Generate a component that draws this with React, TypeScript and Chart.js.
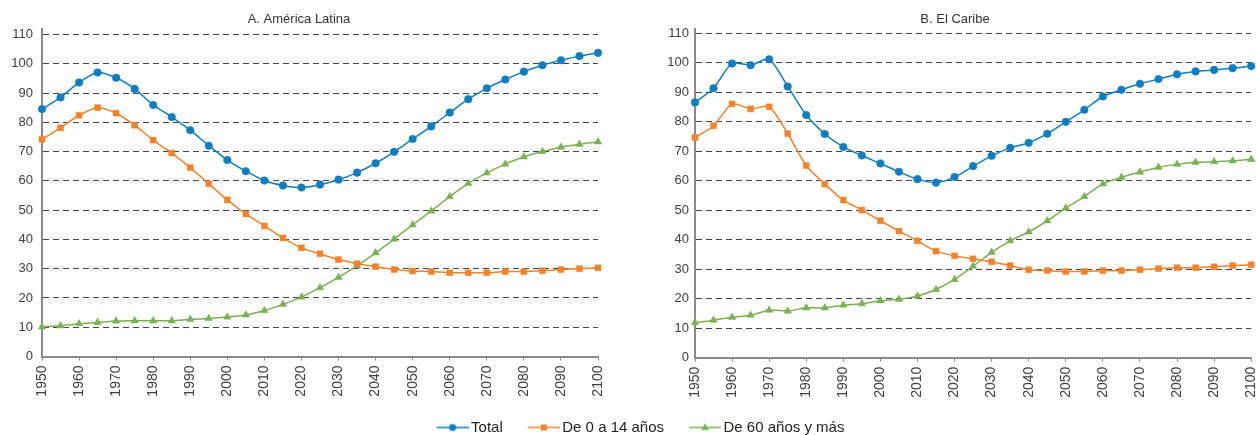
import React, { useEffect, useRef } from 'react';
import { Chart, registerables } from 'chart.js';

Chart.register(...registerables);

const YEARS = [1950, 1955, 1960, 1965, 1970, 1975, 1980, 1985, 1990, 1995, 2000, 2005, 2010, 2015, 2020, 2025, 2030, 2035, 2040, 2045, 2050, 2055, 2060, 2065, 2070, 2075, 2080, 2085, 2090, 2095, 2100];

const SERIES_LABELS = ['Total', 'De 0 a 14 años', 'De 60 años y más'];

const TITLE_A = 'A. América Latina';
const TITLE_B = 'B. El Caribe';

const LA_TOTAL = [84.5, 88.5, 93.6, 97.0, 95.2, 91.4, 85.9, 81.8, 77.3, 72.0, 67.1, 63.3, 60.1, 58.4, 57.7, 58.7, 60.4, 62.8, 66.0, 69.9, 74.3, 78.6, 83.3, 87.9, 91.6, 94.6, 97.3, 99.5, 101.2, 102.6, 103.7];
const LA_0_14 = [74.2, 78.1, 82.4, 85.0, 83.1, 79.0, 73.9, 69.5, 64.5, 59.0, 53.5, 48.7, 44.6, 40.5, 37.1, 35.1, 33.1, 31.7, 30.7, 29.7, 29.2, 29.0, 28.6, 28.6, 28.6, 29.0, 29.0, 29.3, 29.7, 30.0, 30.3];
const LA_60 = [10.1, 10.5, 11.2, 11.6, 12.1, 12.2, 12.2, 12.2, 12.7, 13.0, 13.5, 14.2, 15.7, 17.8, 20.3, 23.5, 27.0, 31.0, 35.4, 40.1, 45.0, 49.7, 54.6, 59.1, 62.7, 65.7, 68.2, 70.0, 71.5, 72.5, 73.3];

const CB_TOTAL = [86.5, 91.3, 99.7, 99.1, 101.1, 91.9, 82.2, 75.8, 71.4, 68.5, 65.8, 63.0, 60.5, 59.3, 61.2, 64.9, 68.4, 71.1, 72.8, 75.9, 79.9, 84.0, 88.5, 90.8, 92.8, 94.4, 96.0, 97.0, 97.5, 98.1, 98.8];
const CB_0_14 = [74.6, 78.6, 86.0, 84.3, 85.0, 75.9, 65.1, 58.8, 53.4, 50.0, 46.4, 42.9, 39.6, 36.1, 34.5, 33.5, 32.5, 31.2, 29.8, 29.5, 29.2, 29.2, 29.5, 29.5, 29.8, 30.2, 30.5, 30.5, 30.8, 31.2, 31.5];
const CB_60 = [11.9, 12.7, 13.7, 14.4, 16.1, 15.8, 16.9, 16.9, 17.8, 18.3, 19.3, 19.8, 20.9, 23.1, 26.5, 31.0, 35.7, 39.6, 42.6, 46.4, 50.7, 54.6, 58.9, 61.1, 62.9, 64.5, 65.5, 66.2, 66.4, 66.7, 67.2];

const Y_TICKS = [0, 10, 20, 30, 40, 50, 60, 70, 80, 90, 100, 110];
const X_TICKS = [1950, 1960, 1970, 1980, 1990, 2000, 2010, 2020, 2030, 2040, 2050, 2060, 2070, 2080, 2090, 2100];

const COLORS = ['#0F7DC2', '#F5822A', '#79B153'];
const POINT_STYLES = ['circle', 'rect', 'triangle'];
const POINT_RADII = [3.8, 4.2, 4.3];
const FONT = "'Liberation Sans', Arial, Helvetica, sans-serif";
const TEXT = '#404040';
const AXIS = '#8a8a8a';
const GRID = '#444444';

type PanelOpts = {
  title: string;
  series: number[][];
  yMax: number;
  yWidth: number;
  yPad: number;
  rightPad: number;
  xHeight: number;
};

function makeConfig(p: PanelOpts): any {
  return {
    type: 'line',
    data: {
      datasets: p.series.map((arr, i) => ({
        label: SERIES_LABELS[i],
        data: YEARS.map((x, j) => ({ x, y: arr[j] })),
        borderColor: COLORS[i],
        backgroundColor: COLORS[i],
        borderWidth: 1.5,
        pointStyle: POINT_STYLES[i],
        pointRadius: POINT_RADII[i],
        pointBorderWidth: 0.5,
        pointBorderColor: COLORS[i],
        pointBackgroundColor: COLORS[i],
        tension: 0.25,
        clip: false,
      })),
    },
    options: {
      responsive: false,
      animation: false,
      events: [],
      layout: { padding: { left: 0, right: p.rightPad, top: 0, bottom: 0 } },
      plugins: {
        legend: { display: false },
        tooltip: { enabled: false },
        title: {
          display: true,
          text: p.title,
          color: '#333333',
          font: { size: 13, family: FONT, weight: 'normal' },
          padding: { top: 12, bottom: 1 },
        },
      },
      scales: {
        x: {
          type: 'linear',
          min: YEARS[0],
          max: YEARS[YEARS.length - 1],
          ticks: {
            autoSkip: false,
            minRotation: 90,
            maxRotation: 90,
            color: TEXT,
            padding: 5,
            font: { size: 14, family: FONT },
            callback: (v: any) => String(v),
          },
          afterBuildTicks: (s: any) => {
            s.ticks = X_TICKS.map((value) => ({ value }));
          },
          grid: { display: true, drawOnChartArea: false, drawTicks: true, tickLength: 4, color: AXIS, lineWidth: 1 },
          border: { display: true, color: AXIS, width: 2 },
          afterFit: (s: any) => {
            s.height = p.xHeight;
            s.paddingLeft = 0;
            s.paddingRight = 0;
          },
        },
        y: {
          min: 0,
          max: p.yMax,
          ticks: {
            color: TEXT,
            padding: p.yPad,
            font: { size: 13, family: FONT },
            callback: (v: any) => String(v),
          },
          afterBuildTicks: (s: any) => {
            s.ticks = Y_TICKS.map((value) => ({ value }));
          },
          grid: {
            drawTicks: false,
            color: (ctx: any) => (ctx.tick && ctx.tick.value === 0 ? 'rgba(0,0,0,0)' : GRID),
            lineWidth: 1,
          },
          border: { display: true, color: AXIS, width: 2, dash: [6, 4] },
          afterFit: (s: any) => {
            s.width = p.yWidth;
            s.paddingTop = 0;
            s.paddingBottom = 0;
          },
        },
      },
    },
  };
}

function legendImage(i: number): HTMLCanvasElement {
  const c = document.createElement('canvas');
  const lineLen = 32;
  const shift = 10;
  c.width = lineLen + shift;
  c.height = 12;
  const ctx = c.getContext('2d')!;
  ctx.strokeStyle = COLORS[i];
  ctx.fillStyle = COLORS[i];
  ctx.lineWidth = 1.5;
  ctx.beginPath();
  ctx.moveTo(shift, 6);
  ctx.lineTo(shift + lineLen, 6);
  ctx.stroke();
  const cx = shift + lineLen / 2;
  const cy = 6;
  ctx.beginPath();
  if (POINT_STYLES[i] === 'circle') {
    ctx.arc(cx, cy, 3.6, 0, Math.PI * 2);
  } else if (POINT_STYLES[i] === 'rect') {
    ctx.rect(cx - 3, cy - 3, 6, 6);
  } else {
    ctx.moveTo(cx, cy - 4.2);
    ctx.lineTo(cx + 3.8, cy + 2.5);
    ctx.lineTo(cx - 3.8, cy + 2.5);
    ctx.closePath();
  }
  ctx.fill();
  return c;
}

function ChartCanvas({ config, style, width, height }: { config: () => any; style: React.CSSProperties; width: number; height: number }) {
  const ref = useRef<HTMLCanvasElement | null>(null);
  useEffect(() => {
    if (!ref.current) return;
    const chart = new Chart(ref.current, config());
    return () => chart.destroy();
  }, []);
  return <canvas ref={ref} width={width} height={height} style={{ position: 'absolute', width, height, ...style }} />;
}

export default function App() {
  Chart.defaults.font.family = FONT;
  const legendConfig = () => ({
    type: 'line',
    data: { datasets: SERIES_LABELS.map((label, i) => ({ label, data: [], borderColor: COLORS[i], backgroundColor: COLORS[i] })) },
    options: {
      responsive: false,
      animation: false,
      events: [],
      layout: { padding: { left: 20, top: 0 } },
      scales: { x: { display: false }, y: { display: false } },
      plugins: {
        tooltip: { enabled: false },
        legend: {
          display: true,
          position: 'top',
          labels: {
            usePointStyle: true,
            pointStyleWidth: 32,
            padding: 20,
            color: '#222222',
            font: { size: 15, family: FONT },
            generateLabels: () =>
              SERIES_LABELS.map((text, i) => ({
                text,
                pointStyle: legendImage(i),
                fillStyle: COLORS[i],
                strokeStyle: COLORS[i],
                fontColor: '#222222',
                lineWidth: 0,
                hidden: false,
                datasetIndex: i,
              })),
          },
        },
      },
    },
  });

  return (
    <div style={{ position: 'absolute', left: 0, top: 0, width: 1256, height: 435, background: '#fff', overflow: 'hidden' }}>
      <ChartCanvas
        width={605}
        height={400}
        style={{ left: 0, top: 0 }}
        config={() => makeConfig({ title: TITLE_A, series: [LA_TOTAL, LA_0_14, LA_60], yMax: 112, yWidth: 42, yPad: 9, rightPad: 7, xHeight: 43.5 })}
      />
      <ChartCanvas
        width={598}
        height={400}
        style={{ left: 658, top: 0 }}
        config={() => makeConfig({ title: TITLE_B, series: [CB_TOTAL, CB_0_14, CB_60], yMax: 111.5, yWidth: 37, yPad: 6, rightPad: 4, xHeight: 42.3 })}
      />
      <ChartCanvas width={1256} height={80} style={{ left: 0, top: 400 }} config={legendConfig} />
    </div>
  );
}
